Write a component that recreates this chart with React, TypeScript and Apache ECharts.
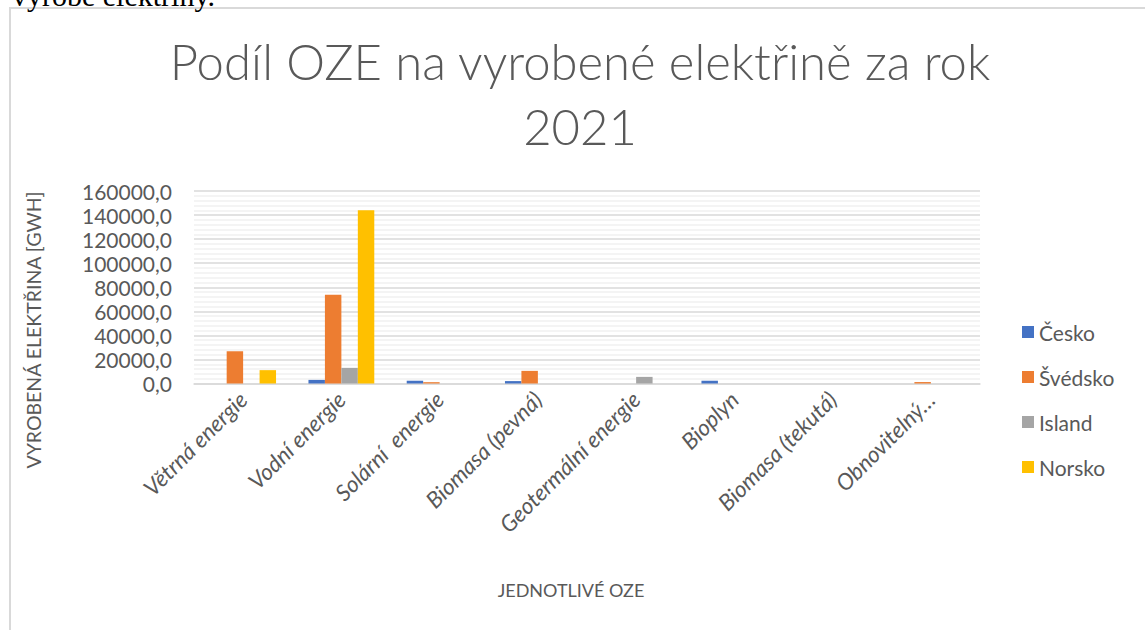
import React, { useEffect, useRef } from "react";
import * as echarts from "echarts";

const categories = [
  "Větrná energie",
  "Vodní energie",
  "Solární  energie",
  "Biomasa (pevná)",
  "Geotermální energie",
  "Bioplyn",
  "Biomasa (tekutá)",
  "Obnovitelný…",
];
const seriesNames = ["Česko", "Švédsko", "Island", "Norsko"];
const cesko = [0, 3000, 2300, 2000, 0, 2300, 0, 0];
const svedsko = [26800, 73700, 1100, 10500, 0, 0, 0, 1200];
const island = [0, 13000, 0, 0, 5500, 0, 0, 0];
const norsko = [11100, 144000, 0, 0, 0, 0, 0, 0];
const colors = ["#4472C4", "#ED7D31", "#A5A5A5", "#FFC000"];
const yTicks = { min: 0, max: 160000, interval: 20000 };

const TEXT = "#595959";
const FONT = "Lato, 'Open Sans', sans-serif";

export default function App() {
  const ref = useRef<HTMLDivElement>(null);
  useEffect(() => {
    if (!ref.current) return;
    const chart = echarts.init(ref.current, null, { renderer: "svg" });
    const values = [cesko, svedsko, island, norsko];
    chart.setOption({
      animation: false,
      backgroundColor: "#ffffff",
      textStyle: { fontFamily: FONT, color: TEXT },
      title: {
        text: "Podíl OZE na vyrobené elektřině za rok\n2021",
        left: 580,
        textAlign: "center",
        top: 28,
        padding: 0,
        textStyle: {
          fontFamily: FONT,
          fontWeight: 300,
          fontSize: 49,
          lineHeight: 65,
          color: TEXT,
        },
      },
      legend: {
        orient: "vertical",
        left: 1022,
        top: 321,
        padding: 0,
        icon: "rect",
        itemWidth: 12,
        itemHeight: 12,
        itemGap: 23,
        itemStyle: { borderWidth: 0 },
        textStyle: { fontFamily: FONT, fontSize: 21, lineHeight: 22, color: TEXT },
        data: seriesNames,
      },
      graphic: [
        {
          type: "rect",
          shape: { x: 10, y: 8, width: 1300, height: 800 },
          style: { fill: "none", stroke: "#d9d9d9", lineWidth: 2 },
          silent: true,
        },
        {
          type: "text",
          x: 12,
          y: 10,
          style: {
            text: "vyrobe elektřiny.",
            fontFamily: "'Liberation Serif', 'DejaVu Serif', serif",
            fontSize: 30,
            fill: "#000000",
            textVerticalAlign: "bottom",
          },
          silent: true,
        },
        {
          type: "text",
          x: 571,
          y: 590,
          style: {
            text: "JEDNOTLIVÉ OZE",
            fontFamily: FONT,
            fontSize: 18,
            fill: TEXT,
            textAlign: "center",
            textVerticalAlign: "middle",
          },
          silent: true,
        },
        {
          type: "text",
          x: 33,
          y: 330,
          rotation: Math.PI / 2,
          style: {
            text: "VYROBENÁ ELEKTŘINA [GWH]",
            fontFamily: FONT,
            fontSize: 19.5,
            fill: TEXT,
            textAlign: "center",
            textVerticalAlign: "middle",
          },
          silent: true,
        },
      ],
      grid: { left: 194, right: 165, top: 191, bottom: 246.5, containLabel: false },
      xAxis: {
        type: "category",
        data: categories,
        axisTick: { show: false },
        axisLine: { lineStyle: { color: "#d9d9d9", width: 1.5 } },
        axisLabel: {
          interval: 0,
          rotate: 45,
          margin: 12,
          fontStyle: "italic",
          fontFamily: FONT,
          fontSize: 22.5,
          color: TEXT,
        },
      },
      yAxis: {
        type: "value",
        min: yTicks.min,
        max: yTicks.max,
        interval: yTicks.interval,
        axisLine: { show: false },
        axisTick: { show: false },
        axisLabel: {
          margin: 22,
          fontFamily: FONT,
          fontSize: 21,
          color: TEXT,
          formatter: (v: number) => v.toFixed(1).replace(".", ","),
        },
        splitLine: { lineStyle: { color: "#d9d9d9", width: 1.5 } },
        minorTick: { show: false, splitNumber: 5 },
        minorSplitLine: { show: true, lineStyle: { color: "#f0f0f0", width: 1.5 } },
      },
      series: seriesNames.map((name, i) => ({
        name,
        type: "bar",
        data: values[i],
        barGap: "0%",
        barCategoryGap: "33%",
        itemStyle: { color: colors[i] },
      })),
    });
    return () => chart.dispose();
  }, []);
  return (
    <div style={{ position: "fixed", left: 0, top: 0, width: 1145, height: 630 }}>
      <div ref={ref} style={{ width: 1145, height: 630 }} />
    </div>
  );
}
